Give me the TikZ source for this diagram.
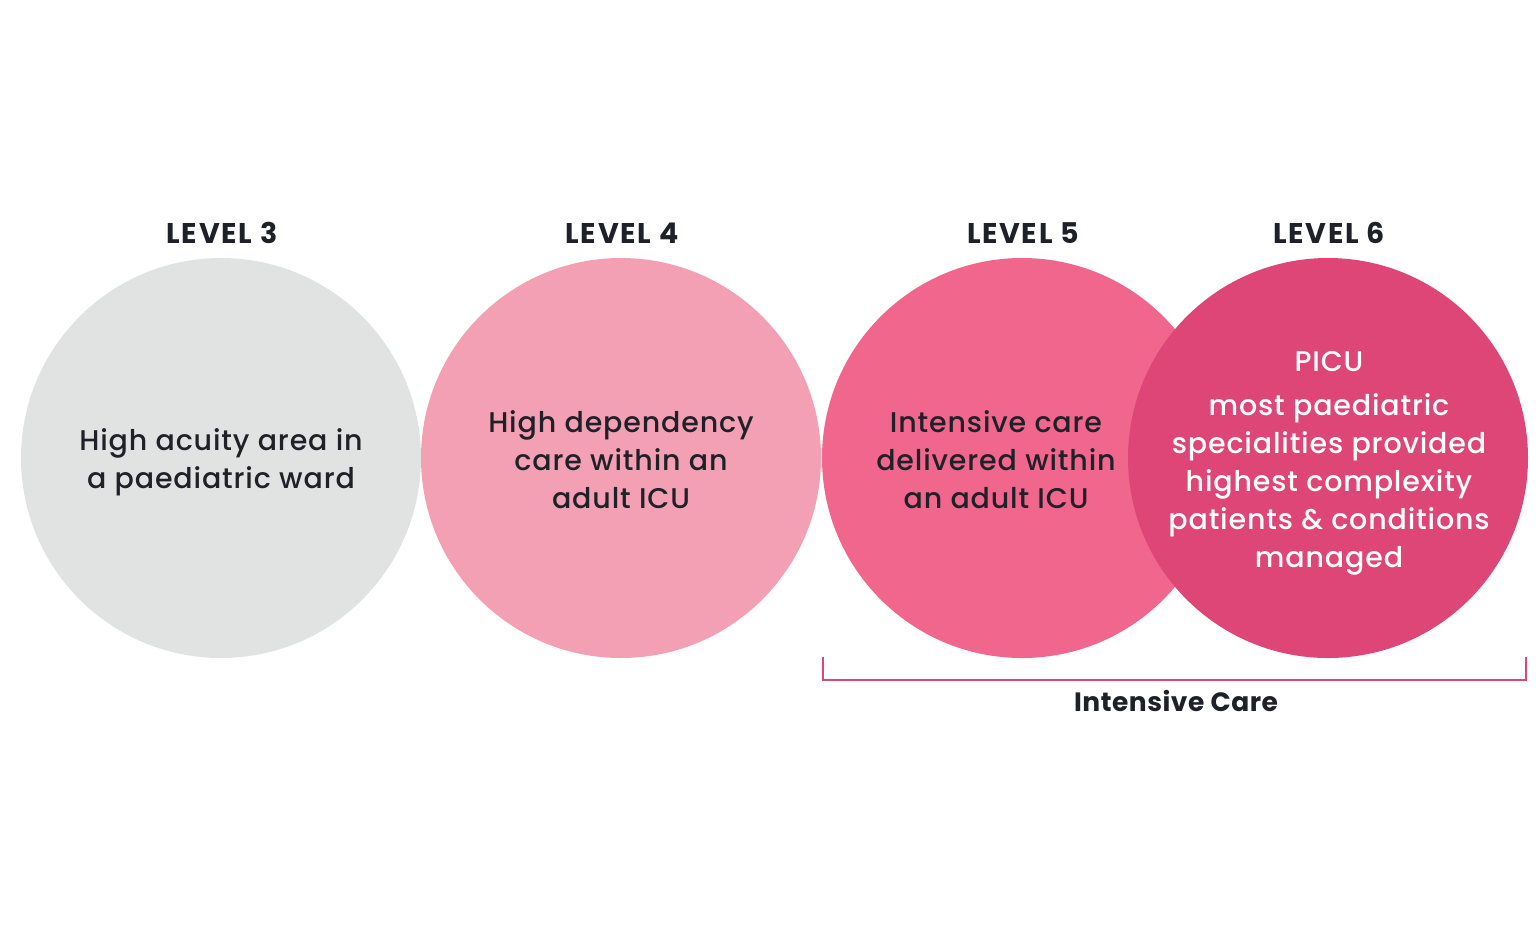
\documentclass[tikz,border=0pt]{standalone}
\usepackage{fontspec}
\setmainfont{Poppins}
\newfontfamily\bodyf{Poppins Medium}[LetterSpace=3]
\newfontfamily\lvlf{Poppins}[LetterSpace=6]
\newfontfamily\icf{Poppins}[LetterSpace=2]
\definecolor{txt}{HTML}{1F2128}
\definecolor{cgray}{HTML}{E1E3E3}
\definecolor{cfour}{HTML}{F4A0B4}
\definecolor{cfive}{HTML}{F0668C}
\definecolor{csix}{HTML}{DD4677}
\definecolor{brk}{HTML}{D9487A}
\begin{document}
\begin{tikzpicture}[x=1pt,y=-1pt,
  lvl/.style={text=txt,font=\lvlf\fontsize{28.5}{30}\selectfont\bfseries,anchor=base},
  bubble/.style={circle,minimum size=400pt,inner sep=0pt},
  body/.style={text=txt,font=\bodyf\fontsize{28.5}{38}\selectfont,align=center},
  bodyw/.style={text=white,font=\bodyf\fontsize{28.5}{38}\selectfont,align=center}]
\useasboundingbox[fill=white] (0,0) rectangle (1536,930);
\node[bubble,fill=cgray] (c3) at (221,458) {};
\node[bubble,fill=cfour] (c4) at (621,458) {};
\node[bubble,fill=cfive] (c5) at (1022,458) {};
\node[bubble,fill=csix] (c6) at (1328,458) {};
\node[lvl] (l3) at (222,243) {LEVEL 3};
\node[lvl] (l4) at (622,243) {LEVEL 4};
\node[lvl] (l5) at (1023,243) {LEVEL 5};
\node[lvl] (l6) at (1329,243) {LEVEL 6};
\node[body] (t3) at (221,462) {High acuity area in\\a paediatric ward};
\node[body] (t4) at (621,460) {High dependency\\care within an\\adult ICU};
\node[body] (t5) at (996,460) {Intensive care\\delivered within\\an adult ICU};
\node[bodyw] (t6) at (1329,463) {PICU\\[6pt]most paediatric\\specialities provided\\highest complexity\\patients \& conditions\\managed};
\coordinate (bl) at (823,657);
\coordinate (br) at (1526,657);
\draw[brk,line width=2.5pt] (bl) -- ++(0,23) -| (br);
\node[text=txt,font=\icf\fontsize{26.5}{30}\selectfont\bfseries] (ic) at (1176,701) {Intensive Care};
\end{tikzpicture}
\end{document}
